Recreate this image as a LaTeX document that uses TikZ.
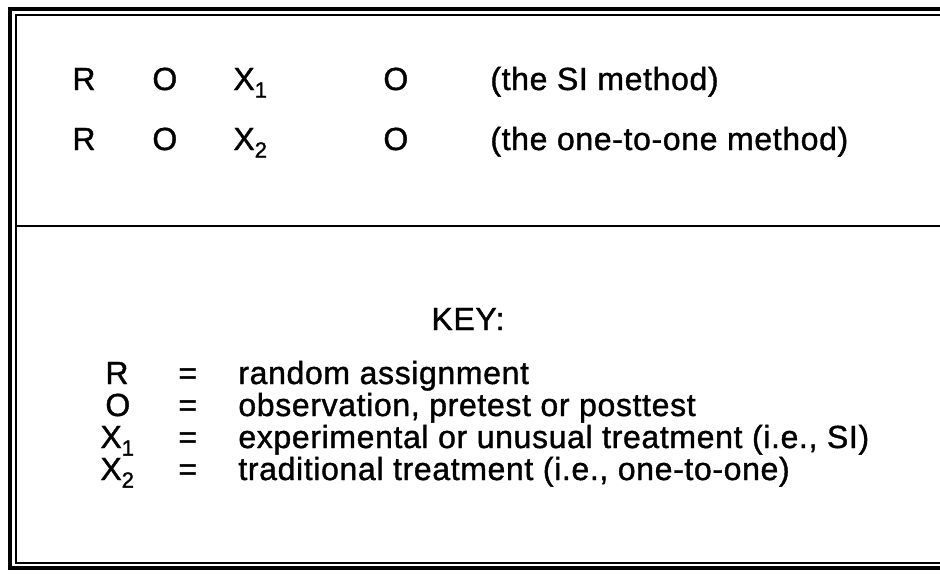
\documentclass[tikz,border=0pt]{standalone}
\usepackage{fontspec}
\setmainfont{Liberation Sans}[LetterSpace=2,FakeBold=1.2]
\usetikzlibrary{positioning}
\newcommand{\lowidx}[1]{\raisebox{-0.45ex}{\fontsize{11}{11}\selectfont #1}}

\begin{document}
\begin{tikzpicture}[
x = 0.5pt,
y = -0.5pt,
every node/.style = {
	font = \fontsize{16}{19}\selectfont,
	inner sep = 0pt,
	anchor = base west
},
frameout/.style = {
	line width = 1.6pt
},
framein/.style = {
	line width = 1pt
},
divider/.style = {
	line width = 1.2pt
}
]
\useasboundingbox (0,0) rectangle (940,573);

% frame, open on the right
\draw[frameout] (940,9) -- (10,9) -- (10,568) -- (940,568);
\draw[framein] (940,15) -- (16,15) -- (16,563) -- (940,563);
\draw[divider] (16,226) -- (940,226);

% design rows
\node (r_a)  at (72,90) {R};
\node (o_a)  at (152,90) {O};
\node (x_a)  at (233,90) {X\lowidx{1}};
\node (o_a2) at (383,90) {O};
\node (m_a)  at (490,90) {(the SI method)};

\node (r_b)  at (72,150) {R};
\node (o_b)  at (152,150) {O};
\node (x_b)  at (233,150) {X\lowidx{2}};
\node (o_b2) at (383,150) {O};
\node (m_b)  at (490,150) {(the one-to-one method)};

% key
\node (key) [anchor=base] at (468,330) {KEY:};

\node (k_r) at (105,384) {R};
\node (k_o) at (105,416) {O};
\node (k_x1) at (100,448) {X\lowidx{1}};
\node (k_x2) at (100,480) {X\lowidx{2}};

\foreach \y in {384,416,448,480}
	\node at (178,\y) {=};

\node (d_r)  at (238,384) {random assignment};
\node (d_o)  at (238,416) {observation, pretest or posttest};
\node (d_x1) at (238,448) {experimental or unusual treatment (i.e., SI)};
\node (d_x2) at (238,480) {traditional treatment (i.e., one-to-one)};

\end{tikzpicture}
\end{document}
